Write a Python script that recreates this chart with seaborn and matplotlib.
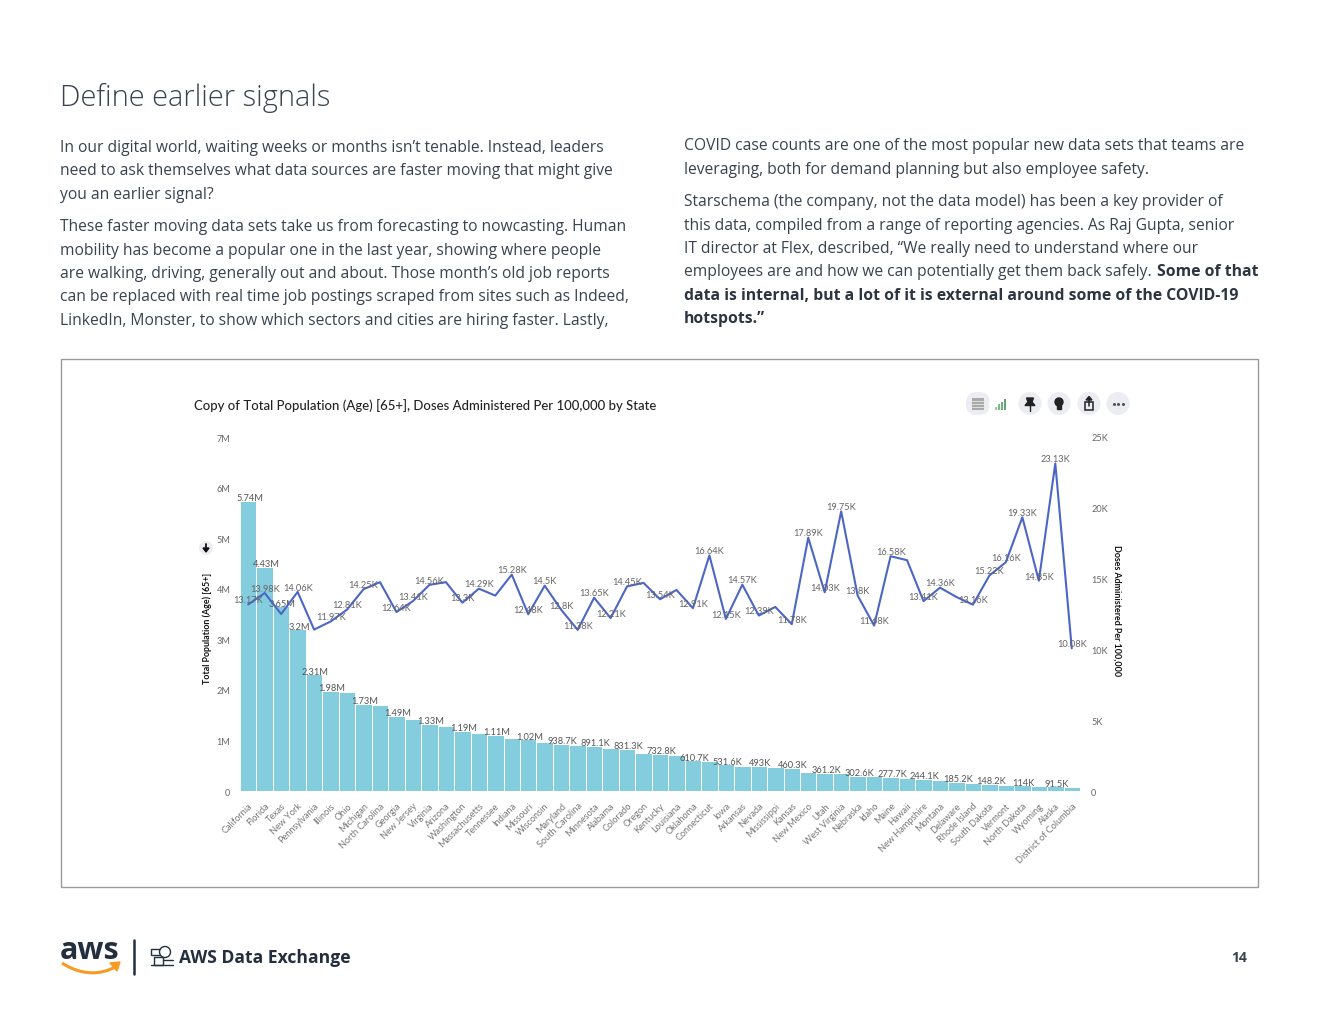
import numpy as np
import pandas as pd
import matplotlib
matplotlib.use("Agg")
import matplotlib.pyplot as plt
from matplotlib.patches import Rectangle, FancyBboxPatch, Circle, Polygon, PathPatch
from matplotlib.path import Path
import seaborn as sns

states = ["California", "Florida", "Texas", "New York", "Pennsylvania", "Illinois", "Ohio", "Michigan",
          "North Carolina", "Georgia", "New Jersey", "Virginia", "Arizona", "Washington", "Massachusetts",
          "Tennessee", "Indiana", "Missouri", "Wisconsin", "Maryland", "South Carolina", "Minnesota",
          "Alabama", "Colorado", "Oregon", "Kentucky", "Louisiana", "Oklahoma", "Connecticut", "Iowa",
          "Arkansas", "Nevada", "Mississippi", "Kansas", "New Mexico", "Utah", "West Virginia", "Nebraska",
          "Idaho", "Maine", "Hawaii", "New Hampshire", "Montana", "Delaware", "Rhode Island", "South Dakota",
          "Vermont", "North Dakota", "Wyoming", "Alaska", "District of Columbia"]

population = [5740000, 4430000, 3650000, 3200000, 2310000, 1980000, 1960000, 1730000, 1710000, 1490000,
              1430000, 1330000, 1290000, 1190000, 1140000, 1110000, 1040000, 1020000, 970000, 938700,
              910000, 891100, 850000, 831300, 750000, 732800, 720000, 610700, 600000, 531600,
              500000, 493000, 480000, 460300, 370000, 361200, 350000, 302600, 290000, 277700,
              260000, 244100, 215000, 185200, 165000, 148200, 120000, 114000, 95000, 91500, 80000]

doses = [13170, 13980, 12500, 14060, 11400, 11970, 12810, 14250, 14750, 12640,
         13410, 14560, 14750, 13300, 14290, 13800, 15280, 12480, 14500, 12800,
         11380, 13650, 12210, 14450, 14700, 13540, 14200, 12910, 16640, 12150,
         14570, 12390, 13000, 11780, 17890, 14030, 19750, 13800, 11680, 16580,
         16300, 13410, 14360, 13700, 13160, 15220, 16160, 19330, 14850, 23130, 10080]

population_labels = ["5.74M", "4.43M", "3.65M", "3.2M", "2.31M", "1.98M", "", "1.73M", "", "1.49M",
                     "", "1.33M", "", "1.19M", "", "1.11M", "", "1.02M", "", "938.7K",
                     "", "891.1K", "", "831.3K", "", "732.8K", "", "610.7K", "", "531.6K",
                     "", "493K", "", "460.3K", "", "361.2K", "", "302.6K", "", "277.7K",
                     "", "244.1K", "", "185.2K", "", "148.2K", "", "114K", "", "91.5K", ""]

dose_labels = ["13.17K", "13.98K", "", "14.06K", "", "11.97K", "12.81K", "14.25K", "", "12.64K",
               "13.41K", "14.56K", "", "13.3K", "14.29K", "", "15.28K", "12.48K", "14.5K", "12.8K",
               "11.38K", "13.65K", "12.21K", "14.45K", "", "13.54K", "", "12.91K", "16.64K", "12.15K",
               "14.57K", "12.39K", "", "11.78K", "17.89K", "14.03K", "19.75K", "13.8K", "11.68K", "16.58K",
               "", "13.41K", "14.36K", "", "13.16K", "15.22K", "16.16K", "19.33K", "14.85K", "23.13K", "10.08K"]

left_ticks = [0, 1000000, 2000000, 3000000, 4000000, 5000000, 6000000, 7000000]
left_tick_labels = ["0", "1M", "2M", "3M", "4M", "5M", "6M", "7M"]
right_ticks = [0, 5000, 10000, 15000, 20000, 25000]
right_tick_labels = ["0", "5K", "10K", "15K", "20K", "25K"]

left_column = [
    (146, "In our digital world, waiting weeks or months isn\u2019t tenable. Instead, leaders"),
    (169, "need to ask themselves what data sources are faster moving that might give"),
    (193, "you an earlier signal?"),
    (225, "These faster moving data sets take us from forecasting to nowcasting. Human"),
    (249, "mobility has become a popular one in the last year, showing where people"),
    (272, "are walking, driving, generally out and about. Those month\u2019s old job reports"),
    (295, "can be replaced with real time job postings scraped from sites such as Indeed,"),
    (319, "LinkedIn, Monster, to show which sectors and cities are hiring faster. Lastly,"),
]
right_column = [
    (144, "COVID case counts are one of the most popular new data sets that teams are"),
    (168, "leveraging, both for demand planning but also employee safety."),
    (200, "Starschema (the company, not the data model) has been a key provider of"),
    (224, "this data, compiled from a range of reporting agencies. As Raj Gupta, senior"),
    (247, "IT director at Flex, described, \u201cWe really need to understand where our"),
    (270, "employees are and how we can potentially get them back safely."),
]
right_bold = [
    (1157, 270, "Some of that"),
    (684, 294, "data is internal, but a lot of it is external around some of the COVID-19"),
    (684, 317, "hotspots.\u201d"),
]

W, H = 1320, 1020
TEXT = "#39434f"
BAR = "#84cddf"
LINE = "#4c66c6"
BODY_FONT = "Open Sans"

sns.set_theme(style="white")
plt.rcParams["font.family"] = [BODY_FONT, "DejaVu Sans"]

df = pd.DataFrame({"state": states, "population": population, "doses": doses})
df["pos"] = np.arange(len(df))

fig = plt.figure(figsize=(W / 100, H / 100), dpi=100, facecolor="white")

# page layer in pixel coordinates
page = fig.add_axes([0, 0, 1, 1], zorder=0)
page.set_xlim(0, W)
page.set_ylim(H, 0)
page.axis("off")

page.text(60, 98, "Define earlier signals", fontsize=20.9, color=TEXT, va="center", fontweight="light")
for y, line in left_column:
    page.text(60, y + 2, line, fontsize=11.27, color=TEXT, va="center")
for y, line in right_column:
    page.text(684, y + 2, line, fontsize=11.27, color=TEXT, va="center")
for x, y, line in right_bold:
    page.text(x, y + 2, line, fontsize=11.37, color="#2c3540", va="center", fontweight="bold")

page.add_patch(Rectangle((61, 360), 1197, 528, fill=False, edgecolor="#9a9a9a", linewidth=1))

page.text(194, 406, "Copy of Total Population (Age) [65+], Doses Administered Per 100,000 by State",
          fontsize=9.47, color="#222222", va="center", family="Lato", fontweight="medium")

# toolbar
ICON_BG = "#ecedf2"
page.add_patch(FancyBboxPatch((966, 393), 24, 23, boxstyle="round,pad=0,rounding_size=11",
                              facecolor=ICON_BG, edgecolor="none"))
page.add_patch(Circle((1000, 404.5), 11, facecolor="white", edgecolor="none"))
page.add_patch(Rectangle((972, 399), 12, 12, facecolor="#a9a9a9", edgecolor="none"))
for yy in (402, 405, 408):
    page.plot([972, 984], [yy, yy], color="#e6e6e6", lw=0.6)
for k, (bx, bh, c) in enumerate([(995, 3, "#9bc7a0"), (998, 6, "#7fb98a"), (1001, 8, "#6db17c"), (1004, 11, "#5fa86f")]):
    page.add_patch(Rectangle((bx, 411 - bh), 2.4, bh, facecolor=c, edgecolor="none"))
for cx in (1030, 1059, 1089, 1118):
    page.add_patch(Circle((cx, 404.5), 11.5, facecolor=ICON_BG, edgecolor="none"))
page.add_patch(Polygon([(1026.5, 399), (1033.5, 399), (1032, 403), (1035, 406.5), (1025, 406.5), (1028, 403)], color="#222222"))
page.plot([1030, 1030], [406, 412], color="#222222", lw=1)
page.add_patch(Circle((1059, 403), 4, color="#222222"))
page.add_patch(Rectangle((1057, 406), 4, 4, color="#222222"))
page.add_patch(Rectangle((1085.2, 403), 7.6, 8, fill=False, edgecolor="#222222", lw=1.1))
page.plot([1089, 1089], [399, 407], color="#222222", lw=1.1)
page.add_patch(Polygon([(1086, 401), (1092, 401), (1089, 397.5)], color="#222222"))
page.scatter([1113.5, 1118, 1122.5], [404.5, 404.5, 404.5], s=1.5, color="#555555")

# sort arrow
page.add_patch(Circle((206, 549), 7, facecolor=ICON_BG, edgecolor="none"))
page.plot([206, 206], [545, 551], color="#111111", lw=1.3)
page.add_patch(Polygon([(203, 549), (209, 549), (206, 553)], color="#111111"))

# footer
page.text(90, 951, "aws", fontsize=22, color="#232f3e", ha="center", va="center", fontweight="bold", family="Open Sans")
smile = Path([(62, 964), (88, 981), (110, 972), (118, 966)], [Path.MOVETO, Path.CURVE4, Path.CURVE4, Path.CURVE4])
page.add_patch(PathPatch(smile, fill=False, edgecolor="#f79a1f", lw=2.2))
page.add_patch(Polygon([(110, 964), (120, 963), (117, 972)], color="#f79a1f"))
page.plot([134, 134], [941, 975], color="#232f3e", lw=1.8)
page.add_patch(Rectangle((151, 950), 10, 6, fill=False, edgecolor="#232f3e", lw=1))
page.add_patch(Rectangle((154, 958), 9, 8, fill=False, edgecolor="#232f3e", lw=1))
page.add_patch(Circle((165, 953), 5.5, fill=True, facecolor="white", edgecolor="#232f3e", lw=1))
page.plot([151, 173], [966, 966], color="#232f3e", lw=1)
page.plot([163, 173], [961, 961], color="#232f3e", lw=1)
page.text(179, 958, "AWS Data Exchange", fontsize=12.65, color="#232f3e", va="center", fontweight="bold")
page.text(1239, 958.5, "14", fontsize=10, color=TEXT, ha="center", va="center", fontweight="bold")

# chart
x0, x1, y_top, y_bot = 240, 1080, 438, 792
ax = fig.add_axes([x0 / W, 1 - y_bot / H, (x1 - x0) / W, (y_bot - y_top) / H], zorder=1)
ax.patch.set_alpha(0)
sns.barplot(data=df, x="state", y="population", color=BAR, width=1.0, saturation=1,
            edgecolor="white", linewidth=0.7, ax=ax)
ax.set_xlim(-0.5, len(states) - 0.5)
ax.set_ylim(0, 7000000)
ax.set_xlabel("")
ax.set_ylabel("")
ax.set_yticks(left_ticks)
ax.set_yticklabels(left_tick_labels, fontsize=6.6, color="#666666", family="Lato")
ax.set_xticks(df["pos"])
ax.set_xticklabels(states, rotation=45, ha="right", rotation_mode="anchor",
                   fontsize=6.6, color="#777777", family="Lato")
ax.tick_params(axis="both", length=0)
ax.tick_params(axis="x", pad=7)
ax.tick_params(axis="y", pad=7)
sns.despine(ax=ax, left=True, bottom=True)

ax2 = ax.twinx()
ax2.set_zorder(2)
sns.lineplot(data=df, x="pos", y="doses", color=LINE, linewidth=1.5, sort=False, ax=ax2)
ax2.set_ylim(0, 25000)
ax2.set_xlim(-0.5, len(states) - 0.5)
ax2.set_xlabel("")
ax2.set_ylabel("")
ax2.set_yticks(right_ticks)
ax2.set_yticklabels(right_tick_labels, fontsize=6.6, color="#666666", family="Lato")
ax2.tick_params(axis="y", length=0, pad=8)
sns.despine(ax=ax2, left=True, bottom=True, right=True)
ax2.grid(False)

for i, lab in enumerate(population_labels):
    if lab:
        ax.annotate(lab, (i, population[i]), xytext=(1, -1), textcoords="offset points", ha="center", va="bottom",
                    fontsize=6.7, color="#555555", family="Lato", annotation_clip=False, zorder=5)
for i, lab in enumerate(dose_labels):
    if lab:
        ax2.annotate(lab, (i, doses[i]), xytext=(0, 3.4), textcoords="offset points", ha="center", va="center",
                     fontsize=6.7, color="#666666", family="Lato", annotation_clip=False, zorder=5)

page.text(207, 628, "Total Population (Age) [65+]", rotation=90, fontsize=6.4, color="#111111",
          ha="center", va="center", family="Lato", fontweight="bold")
page.text(1117, 611, "Doses Administered Per 100,000", rotation=270, fontsize=6.4, color="#111111",
          ha="center", va="center", family="Lato", fontweight="bold")

fig.savefig("out.png", dpi=100)
